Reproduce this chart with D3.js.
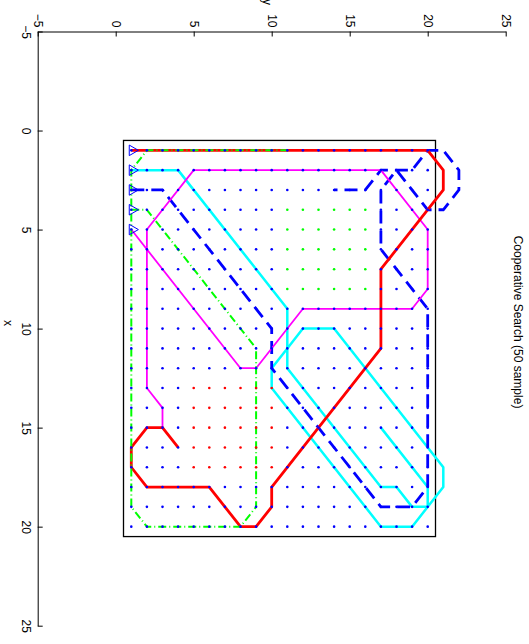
<!DOCTYPE html>
<html><head><meta charset="utf-8">
<script src="https://cdn.jsdelivr.net/npm/d3@7"></script>
<style>body{margin:0;background:#fff}svg{display:block}text{font-family:"Liberation Sans",Arial,sans-serif}</style>
</head><body>
<script>
// ---- data (x = row index, y = column index) ----
const title = "Cooperative Search (50 sample)";
const xTicks = [-5, 0, 5, 10, 15, 20, 25];
const yTicks = [-5, 0, 5, 10, 15, 20, 25];
const gridRows = [1,2,3,4,5,6,7,8,9,10,11,12,13,14,15,16,17,18,19,20];
const gridCols = [1,2,3,4,5,6,7,8,9,10,11,12,13,14,15,16,17,18,19,20];
const greenRows = [4,5,6,7,8];
const greenCols = [11,12,13,14,15,16];
const redRows = [13,14,15,16,17];
const redCols = [5,6,7,8,9,10];
const starts = [[1,1],[2,1],[3,1],[4,1],[5,1]];
const redPath = [[1,1],[1,20],[2,21],[3,21],[7,17],[11,17],[18,10],[19,10],[20,9],[20,8],[18,6],[18,2],[17,1],[16,1],[15,2],[15,3],[16,4]];
const cyanPath = [[2,1],[2,4],[9,11],[11,11],[10,12],[10,14],[17,21],[18,21],[20,19],[20,17],[13,10],[12,10],[11,11],[12,11],[18,17],[18,18],[19,19],[19,20],[18,20],[15,17]];
const bluePath = [[3,1],[3,3],[10,10],[12,10],[19,17],[19,19],[18,20],[9,20],[6,17],[3,17],[2,18],[4,20],[4,21],[3,22],[2,22],[1,21],[1,20],[2,19],[2,18],[2,17],[3,16],[3,14]];
const greenPath = [[4,1],[4,2],[10,8],[11,9],[19,9],[20,8],[20,2],[19,1],[2,1],[1,2],[1,11]];
const magentaPath = [[5,1],[12,8],[12,9],[9,12],[9,19],[8,20],[5,20],[2,17],[2,5],[5,2],[13,2],[14,3],[15,3]];
const areaBox = [0.5, 20.5];

const W = 529, H = 644;
const svg = d3.select("body").append("svg").attr("width", W).attr("height", H);

// y data -> horizontal screen, x data -> vertical screen (rotated view)
const sx = d3.scaleLinear().domain([-5, 25]).range([37.7, 505.7]);
const sy = d3.scaleLinear().domain([-5, 25]).range([31.5, 625.7]);

// axes
const topAxis = d3.axisTop(sx).tickValues(yTicks).tickSizeInner(-5).tickSizeOuter(0).tickPadding(4)
  .tickFormat(d => d < 0 ? "\u2212" + Math.abs(d) : d);
const gTop = svg.append("g").attr("transform", `translate(0,${sy(-5)})`).call(topAxis);
gTop.selectAll("text").attr("y", null).attr("dy", null)
  .attr("transform", "translate(0,-4) rotate(90)")
  .attr("text-anchor", "end").attr("dominant-baseline", "central")
  .attr("font-size", 12).attr("fill", "#000");

const leftAxis = d3.axisLeft(sy).tickValues(xTicks).tickSizeInner(-5).tickSizeOuter(0).tickPadding(4)
  .tickFormat(d => d < 0 ? "\u2212" + Math.abs(d) : d);
const gLeft = svg.append("g").attr("transform", `translate(${sx(-5)},0)`).call(leftAxis);
gLeft.selectAll("text").attr("x", null).attr("dy", null)
  .attr("transform", "translate(-12,0) rotate(90)")
  .attr("text-anchor", "middle").attr("dominant-baseline", "central")
  .attr("font-size", 12).attr("fill", "#000");
svg.selectAll(".domain, .tick line").attr("stroke", "#000").attr("stroke-width", 1);

// axis labels & title
svg.append("text").attr("transform", `translate(267,2) rotate(90)`).attr("text-anchor", "middle")
  .attr("dominant-baseline", "central").attr("font-size", 12).text("y");
svg.append("text").attr("transform", `translate(8,323) rotate(90)`).attr("text-anchor", "middle")
  .attr("dominant-baseline", "central").attr("font-size", 12).text("x");
svg.append("text").attr("transform", `translate(518,322) rotate(90)`).attr("text-anchor", "middle")
  .attr("dominant-baseline", "central").attr("font-size", 12).text(title);

// search area box
svg.append("rect")
  .attr("x", sx(areaBox[0])).attr("y", sy(areaBox[0]))
  .attr("width", sx(areaBox[1]) - sx(areaBox[0])).attr("height", sy(areaBox[1]) - sy(areaBox[0]))
  .attr("fill", "none").attr("stroke", "#000").attr("stroke-width", 1.3);

const line = d3.line().x(d => sx(d[1])).y(d => sy(d[0]));
const paths = [
  {data: cyanPath, color: "#00ffff", w: 2.5, dash: null},
  {data: bluePath, color: "#0000ff", w: 2.8, dash: "13,7"},
  {data: magentaPath, color: "#ff00ff", w: 1.8, dash: null},
  {data: redPath, color: "#ff0000", w: 2.8, dash: null},
  {data: greenPath, color: "#00ff00", w: 2, dash: "8,3,1,3"}
];
svg.append("g").selectAll("path").data(paths).join("path")
  .attr("d", d => line(d.data)).attr("fill", "none")
  .attr("stroke", d => d.color).attr("stroke-width", d => d.w)
  .attr("stroke-dasharray", d => d.dash).attr("stroke-linejoin", "round");

// grid dots
const cells = [];
gridRows.forEach(r => gridCols.forEach(c => {
  let col = "#0000ff";
  if (greenRows.includes(r) && greenCols.includes(c)) col = "#00ff00";
  if (redRows.includes(r) && redCols.includes(c)) col = "#ff0000";
  cells.push({r, c, col});
}));
svg.append("g").selectAll("circle").data(cells).join("circle")
  .attr("cx", d => sx(d.c)).attr("cy", d => sy(d.r)).attr("r", 1.3).attr("fill", d => d.col);

// start markers
svg.append("g").selectAll("path").data(starts).join("path")
  .attr("d", d3.symbol(d3.symbolTriangle, 48))
  .attr("transform", d => `translate(${sx(d[1]) + 1},${sy(d[0])}) rotate(90)`)
  .attr("fill", "none").attr("stroke", "#0000ff").attr("stroke-width", 1);
</script>
</body></html>
